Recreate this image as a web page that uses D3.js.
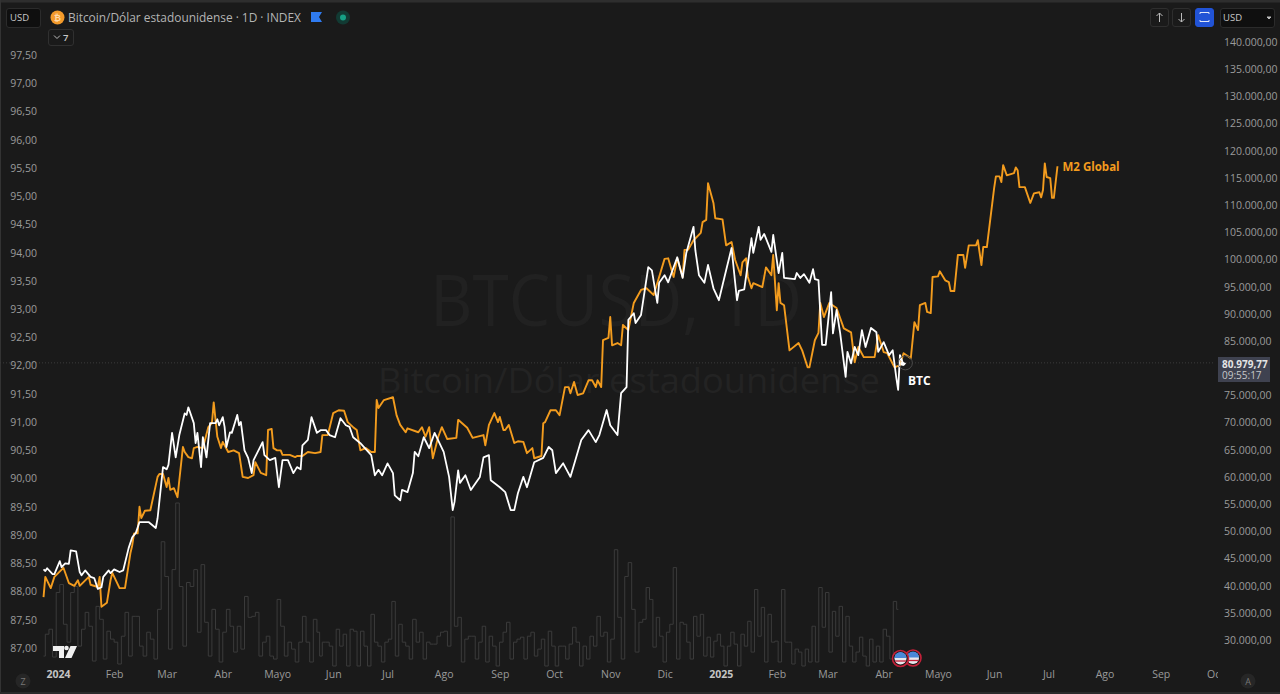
<!DOCTYPE html>
<html><head><meta charset="utf-8">
<script src="https://cdn.jsdelivr.net/npm/d3@7"></script>
<style>
html,body{margin:0;padding:0;background:#1a1a1a;overflow:hidden}
svg{display:block}
text{font-family:"Open Sans",sans-serif}
</style></head><body><svg id="c" width="1280" height="694"></svg>
<script>
// Days since 2024-01-01 and values
const btcDays=[-8,-7,-6,-3,-2,1,2,4,6,7,10,12,13,15,18,20,22,24,25,28,29,31,34,36,39,41,43,45,50,54,55,58,60,61,63,65,67,70,71,72,75,76,77,79,80,82,84,87,88,89,91,92,93,95,96,99,100,101,103,105,107,108,113,114,117,120,122,124,127,130,132,134,135,138,140,143,145,148,150,153,156,159,161,163,167,173,175,177,179,182,185,186,189,190,193,196,197,199,202,205,208,213,216,218,219,221,222,225,228,233,235,238,239,244,247,250,252,254,257,259,263,268,271,273,275,279,283,289,293,297,299,303,305,309,311,314,315,318,319,322,326,328,331,332,335,337,342,345,347,351,352,354,357,359,362,365,369,372,375,376,379,383,384,387,388,390,394,395,398,400,401,407,408,410,412,415,417,418,420,422,424,427,428,430,432,435,436,438,440,442,444,446,449,452,453,456,459,461,463,464,465,467,468];
const btcPrice=[43.0,42.7,43.2,42.1,42.1,44.5,43.4,44.1,44.0,46.5,46.3,42.5,41.9,42.8,41.6,41.4,39.4,39.7,41.6,42.8,42.3,43.0,42.5,42.8,46.9,48.9,49.7,51.7,51.7,50.6,52.4,61.8,61.4,62.2,68.1,63.6,67.7,71.7,71.4,72.8,69.9,66.2,68.1,61.8,67.3,63.6,69.9,69.9,70.6,69.5,71.0,69.2,65.5,68.2,68.1,71.4,69.5,70.1,64.9,63.5,60.7,63.1,66.4,64.0,63.1,63.5,58.1,63.1,63.1,60.7,61.8,61.4,65.8,66.8,71.0,68.1,68.6,68.6,67.7,67.3,70.8,69.5,69.2,67.3,66.2,64.0,60.3,61.3,60.3,62.5,60.7,56.6,55.7,57.6,57.2,60.7,64.6,63.8,67.3,65.3,68.1,64.6,60.0,53.9,55.4,61.2,58.9,60.3,57.6,60.0,63.6,64.0,59.4,58.1,57.2,53.9,53.9,57.0,60.0,58.1,62.7,63.5,65.5,64.9,60.7,62.5,60.0,66.8,68.6,66.4,67.7,72.3,69.5,67.7,75.4,76.5,88.9,90.1,88.3,89.8,98.6,98.0,92.0,95.7,97.1,95.8,100.4,96.6,101.2,106.0,101.7,97.1,95.7,99.0,94.7,92.5,98.0,102.1,92.5,94.2,94.5,103.9,101.2,106.0,103.6,104.7,101.4,104.5,97.5,101.2,96.6,96.4,97.5,96.6,97.3,95.7,98.2,96.4,96.2,84.3,84.3,94.0,86.4,90.7,86.4,78.4,83.0,80.9,83.9,82.4,87.0,83.9,87.4,86.6,83.0,84.8,82.4,83.3,78.2,76.0,82.4,80.6,80.98];
const m2Days=[-8,-7,-4,-2,3,6,9,11,12,17,18,22,23,24,27,29,30,34,37,40,41,42,44,45,46,48,51,55,56,58,60,61,62,64,66,67,69,70,72,74,75,77,80,83,85,86,88,90,91,94,97,100,102,105,108,109,112,115,116,118,119,121,123,124,128,131,132,135,138,142,145,146,149,152,155,158,160,163,165,167,170,173,175,176,177,180,185,187,189,192,193,199,201,203,205,207,210,212,215,220,221,226,229,235,236,238,241,243,244,246,247,249,252,254,257,259,262,263,267,268,269,272,275,277,280,282,283,285,287,290,293,295,297,298,300,301,304,305,306,309,311,312,315,318,322,325,329,332,335,337,340,342,345,346,348,351,355,356,358,359,362,363,367,369,372,374,377,378,380,381,383,384,389,391,394,395,397,398,399,401,404,409,411,414,415,418,420,421,423,426,430,434,438,440,442,445,451,453,456,458,462,465,467,471,473,475,476,479,480,482,483,486,487,490,492,493,495,497,500,501,503,507,508,510,511,513,517,518,520,521,522,524,528,529,530,531,534,537,539,542,543,544,545,546,548,549,550,552];
const m2Value=[87.9,88.26,88.06,88.26,88.42,88.15,88.1,88.2,88.1,88.26,88.12,88.08,88.26,87.73,87.8,88.2,88.33,88.06,88.06,88.68,88.82,89.03,89.03,89.5,89.3,89.43,89.44,90.03,90.08,90.08,89.85,90.01,89.8,89.83,89.67,89.97,90.56,90.47,90.38,90.36,90.54,90.56,90.54,90.91,90.98,91.35,90.74,90.54,90.65,90.47,90.5,90.45,90.03,90.01,90.06,90.29,90.1,90.06,90.86,90.88,90.54,90.5,90.5,90.42,90.42,90.38,90.4,90.4,90.47,90.45,90.47,90.77,90.77,91.16,91.21,91.2,91.0,90.91,90.86,90.5,90.54,90.47,90.47,91.39,91.25,91.39,91.44,91.12,90.95,90.82,90.89,90.82,90.91,90.74,90.91,90.36,90.74,90.91,90.7,90.72,91.04,90.9,90.72,90.77,90.59,90.95,91.16,91.0,91.09,90.86,90.86,90.95,90.63,90.66,90.65,90.45,90.54,90.36,90.4,90.98,91.0,91.21,91.21,91.12,91.62,91.62,91.51,91.71,91.48,91.51,91.74,91.74,91.62,91.74,91.62,92.45,92.49,92.86,92.36,92.4,92.36,92.72,92.63,93.11,93.34,93.37,93.25,93.57,93.89,93.9,93.57,93.9,93.57,94.05,94.05,94.22,94.35,94.54,94.58,95.23,94.88,94.61,94.59,94.13,94.19,93.87,93.6,93.83,93.9,93.57,93.37,93.46,93.39,93.74,93.6,93.96,92.98,93.46,93.11,93.07,92.27,92.4,92.27,91.97,91.97,92.45,92.58,93.11,92.86,93.11,93.02,92.66,92.59,92.06,92.33,92.15,92.15,92.54,92.24,92.22,91.97,92.01,92.22,92.13,92.77,92.63,93.07,93.11,92.95,92.93,93.57,93.58,93.67,93.51,93.48,93.32,93.32,93.96,93.96,93.73,94.13,94.13,94.22,93.78,94.1,94.1,95.14,95.35,95.35,95.25,95.55,95.37,95.41,95.51,95.46,95.16,95.16,94.88,95.05,95.07,94.98,95.11,95.58,95.34,95.32,94.97,94.97,95.53];
// Volume readings in three runs: first day and days between readings
const volStartA=-8, volStartB=145, volStartC=322;
const volStepA=2, volStepB=1.92, volStepC=1.87;
const volA=[11,33,38,10,75,83,43,25,75,81,21,38,55,41,6,61,48,8,36,28,25,3,31,55,11,51,51,21,11,35,28,8,58,126,91,18,98,165,81,21,85,81,98,35,103,45,11,58,38,5,35,58,41,15,41,18,71,50,51,55,11,25,31,11,8,68,41,11,25,18,5,25,51,25,5,48,35];
const volB=[11,25,25,21,1,38,21,33,1,38,36,1,36,21,1,53,25,21,5,25,28,66,11,43,25,21,8,48,25,35,8,25,23,23,31,35,36,21,151,41,50,5,28,31,31,8,25,41,5,31,21,1,25,35,45,8,25,28,30,8,31,35,11,18,28,1,36,21,1,21,21,8,23,40,25,1,21,8,31,21,51,31,35,5,28,118,50,8,91,105,58,15];
const volC=[45,48,80,68,20,50,31,5,35,43,100,8,45,43,25,8,51,31,53,11,30,10,26,33,21,1,21,35,23,1,33,21,46,15,78,31,60,5,53,25,26,5,78,25,25,3,18,15,1,18,5,41,5,80,40,75,15,56,31,61,5,51,21,5,15,30,11,1,28,5,21,5,38,31,8,66,58];
const leftTicks=[87,87.5,88,88.5,89,89.5,90,90.5,91,91.5,92,92.5,93,93.5,94,94.5,95,95.5,96,96.5,97,97.5];
const rightTicks=[30000,35000,40000,45000,50000,55000,60000,65000,70000,75000,85000,90000,95000,100000,105000,110000,115000,120000,125000,130000,135000,140000];
const monthTicks=[[2024,0,"2024"],[2024,1,"Feb"],[2024,2,"Mar"],[2024,3,"Abr"],[2024,4,"Mayo"],[2024,5,"Jun"],[2024,6,"Jul"],[2024,7,"Ago"],[2024,8,"Sep"],[2024,9,"Oct"],[2024,10,"Nov"],[2024,11,"Dic"],[2025,0,"2025"],[2025,1,"Feb"],[2025,2,"Mar"],[2025,3,"Abr"],[2025,4,"Mayo"],[2025,5,"Jun"],[2025,6,"Jul"],[2025,7,"Ago"],[2025,8,"Sep"],[2025,9,"Oct"]];
const lastPrice=80979.77, lastPriceLabel="80.979,77", countdown="09:55:17";

const svg=d3.select("#c");
const day=d=>new Date(Date.UTC(2024,0,1)+d*864e5);
const x=d3.scaleUtc().domain([day(0),Date.UTC(2025,9,1)]).range([58,1215]);
const yL=d3.scaleLinear().domain([87,97.5]).range([648,55]);
const yR=d3.scaleLinear().domain([30000,140000]).range([640,42]);
const yV=d3.scaleLinear().domain([0,165]).range([667,503]);
const loc=d3.formatLocale({decimal:",",thousands:".",grouping:[3],currency:["",""]});

svg.append("rect").attr("width",1280).attr("height",694).attr("fill","#1a1a1a");
svg.append("rect").attr("width",1280).attr("height",2.5).attr("fill","#2e2e2e");
svg.append("rect").attr("width",1).attr("height",694).attr("fill","#333");
svg.append("rect").attr("y",692).attr("width",1280).attr("height",2).attr("fill","#2a2a2a");

// watermark
svg.append("text").attr("x",430).attr("y",326).attr("font-size",72).attr("textLength",372).attr("lengthAdjust","spacingAndGlyphs").attr("fill","#212121").text("BTCUSD, 1D");
svg.append("text").attr("x",378).attr("y",393).attr("font-size",35).attr("textLength",502).attr("lengthAdjust","spacingAndGlyphs").attr("fill","#232323").text("Bitcoin/Dólar estadounidense");

// last price line
svg.append("line").attr("x1",0).attr("x2",1215).attr("y1",yR(lastPrice)).attr("y2",yR(lastPrice)).attr("stroke","#3a3a3a").attr("stroke-dasharray","1 2");

// volume
const volRuns=[[volStartA,volStepA,volA],[volStartB,volStepB,volB],[volStartC,volStepC,volC]];
const volPts=volRuns.flatMap(([s,st,a])=>a.map((v,i)=>[s+i*st,v]));
svg.append("path").attr("d",d3.line().curve(d3.curveStep).x(d=>x(day(d[0]))).y(d=>yV(d[1]))(volPts))
 .attr("fill","none").attr("stroke","#3b3b3b").attr("stroke-width",1);

// series
const lineM=d3.line().x((d,i)=>x(day(d))).y((d,i)=>yL(m2Value[i]));
svg.append("path").attr("d",lineM(m2Days)).attr("fill","none").attr("stroke","#f39c1e").attr("stroke-width",1.9).attr("stroke-linejoin","round");
const lineB=d3.line().x((d,i)=>x(day(d))).y((d,i)=>yR(btcPrice[i]*1000));
svg.append("path").attr("d",lineB(btcDays)).attr("fill","none").attr("stroke","#fff").attr("stroke-width",1.8).attr("stroke-linejoin","round");

// end marker
const ex=x(day(btcDays[btcDays.length-1])), ey=yR(lastPrice);
svg.append("circle").attr("cx",ex).attr("cy",ey).attr("r",7).attr("fill","none").attr("stroke","#4a4a4a");
svg.append("circle").attr("cx",ex-3).attr("cy",ey+1).attr("r",2).attr("fill","#fff");

// axes
const tickCol="#9a9a9a";
function style(g){g.select(".domain").remove();g.selectAll("line").remove();g.selectAll("text").attr("fill",tickCol).attr("font-size",10.5);}
svg.append("g").attr("transform","translate(37,0)").call(d3.axisLeft(yL).tickValues(leftTicks).tickSize(0).tickPadding(0).tickFormat(loc.format(",.2f"))).call(style);
svg.append("g").attr("transform","translate(1224,0)").call(d3.axisRight(yR).tickValues(rightTicks).tickSize(0).tickPadding(0).tickFormat(loc.format(",.2f"))).call(style);

const defs=svg.append("defs");
defs.append("clipPath").attr("id","xc").append("rect").attr("x",0).attr("y",665).attr("width",1218).attr("height",29);
const mt=monthTicks.map(m=>Date.UTC(m[0],m[1],1));
const xg=svg.append("g").attr("clip-path","url(#xc)").append("g").attr("transform","translate(0,671)")
 .call(d3.axisBottom(x).tickValues(mt).tickSize(0).tickPadding(0).tickFormat((d,i)=>monthTicks[i][2])).call(style);
xg.selectAll("text").attr("font-size",10.5).attr("font-weight",(d,i)=>monthTicks[i][1]===0?700:400).attr("fill",(d,i)=>monthTicks[i][1]===0?"#c4c4c4":tickCol);

// price label
svg.append("rect").attr("x",1218).attr("y",357).attr("width",52).attr("height",25).attr("fill","#3f4250");
svg.append("text").attr("x",1222).attr("y",367.5).attr("font-size",10).attr("font-weight",700).attr("font-family","Liberation Sans").attr("fill","#e4e4e4").text(lastPriceLabel);
svg.append("text").attr("x",1222).attr("y",379).attr("font-size",10).attr("font-family","Liberation Sans").attr("fill","#c8c8c8").text(countdown);

// annotations
svg.append("text").attr("x",1062.5).attr("y",171).attr("font-size",11.5).attr("font-weight",700).attr("fill","#f39c1e").text("M2 Global");
svg.append("text").attr("x",908).attr("y",385).attr("font-size",12).attr("font-weight",700).attr("fill","#fff").text("BTC");

// header
function box(x0,y0,w,h,fill,stroke){svg.append("rect").attr("x",x0+.5).attr("y",y0+.5).attr("width",w).attr("height",h).attr("rx",2.5).attr("fill",fill).attr("stroke",stroke);}
box(6,8,34,19,"#0f0f0f","#2b2b2b");
svg.append("text").attr("x",10).attr("y",21).attr("font-size",9.5).attr("fill","#c8c8c8").text("USD");
svg.append("circle").attr("cx",57.5).attr("cy",17.5).attr("r",7).attr("fill","#f39a2b");
svg.append("text").attr("x",57.5).attr("y",20.5).attr("text-anchor","middle").attr("font-size",8.5).attr("font-weight",700).attr("fill","#ffd9a8").text("₿");
svg.append("text").attr("x",68).attr("y",22).attr("font-size",11.9).attr("fill","#b4b4b4").text("Bitcoin/Dólar estadounidense · 1D · INDEX");
svg.append("path").attr("d","M311 12h11l-3 5 3 5h-11z").attr("fill","#2f7bf0");
svg.append("circle").attr("cx",343).attr("cy",17.5).attr("r",7).attr("fill","#123a33");
svg.append("circle").attr("cx",343).attr("cy",17.5).attr("r",3).attr("fill","#16a085");
box(48,29,25,16,"#1a1a1a","#303030");
svg.append("path").attr("d","M54 35.5l3 3 3-3").attr("fill","none").attr("stroke","#bbb");
svg.append("text").attr("x",63).attr("y",41).attr("font-size",9.5).attr("font-weight",600).attr("fill","#c8c8c8").text("7");
box(1150,8,18,18,"#1a1a1a","#2e2e2e");
svg.append("path").attr("d","M1159.5 22v-9m-3 3l3-3 3 3").attr("fill","none").attr("stroke","#bbb");
box(1172,8,18,18,"#1a1a1a","#2e2e2e");
svg.append("path").attr("d","M1181.5 13v9m-3-3l3 3 3-3").attr("fill","none").attr("stroke","#bbb");
box(1195,8,18,18,"#2153d6","#2153d6");
svg.append("path").attr("d","M1200 14v-1.5h9v1.5M1200 20v1.5h9V20").attr("fill","none").attr("stroke","#dfe6f8");
box(1220,8,54,19,"#0f0f0f","#2b2b2b");
svg.append("text").attr("x",1223).attr("y",21).attr("font-size",9.5).attr("fill","#c8c8c8").text("USD");
svg.append("path").attr("d","M1267 17l2 2 2-2z").attr("fill","#bbb").attr("stroke","#bbb");

// TradingView logo
svg.append("path").attr("d","M53 646h11v12h-5v-7h-6zM70.5 646h6.5l-5.5 12h-6.5z").attr("fill","#f0f0f0");
svg.append("circle").attr("cx",66.5).attr("cy",648).attr("r",2.3).attr("fill","#f0f0f0");

// bottom round buttons
[[23,"Z"],[1248,"A"]].forEach(([cx,t])=>{
 svg.append("circle").attr("cx",cx).attr("cy",681).attr("r",7.5).attr("fill","#262626");
 svg.append("text").attr("x",cx).attr("y",684.5).attr("text-anchor","middle").attr("font-size",9).attr("fill","#777").text(t);
});

// event flags
[[913,658],[900.5,658.5]].forEach(([cx,cy])=>{
 svg.append("circle").attr("cx",cx).attr("cy",cy).attr("r",8).attr("fill","#1a1a1a").attr("stroke","#c4213a").attr("stroke-width",1.6);
 svg.append("circle").attr("cx",cx).attr("cy",cy).attr("r",6).attr("fill","#e8e8ee");
 svg.append("path").attr("d",`M${cx-6} ${cy-.5}a6 6 0 0 1 12 0z`).attr("fill","#4a88d8");
 svg.append("path").attr("d",`M${cx-5.5} ${cy+2.5}h11`).attr("stroke","#c4213a").attr("stroke-width",1.3);
});
</script></body></html>
